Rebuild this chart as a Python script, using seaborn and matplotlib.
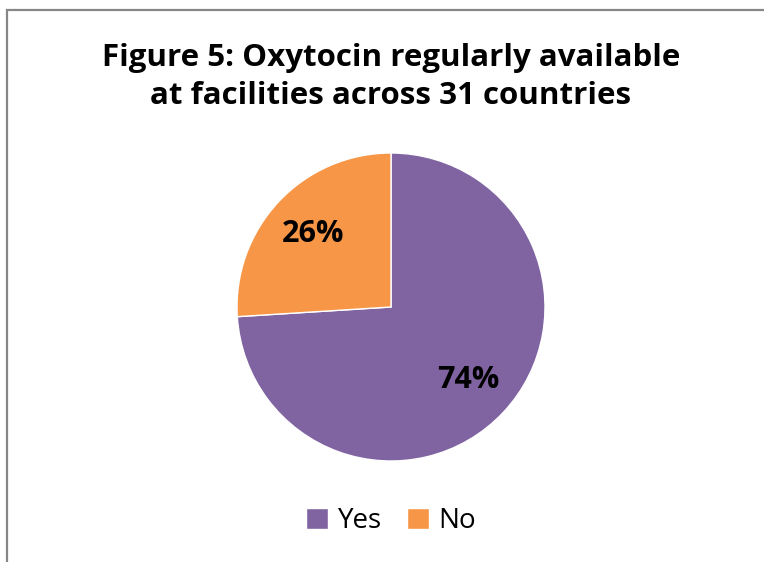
import matplotlib
matplotlib.use("Agg")
import matplotlib.pyplot as plt
import seaborn as sns
from matplotlib.patches import Rectangle

# Datos del gráfico
categorias = ["Yes", "No"]
porcentajes = [74, 26]
colores = ["#8064A2", "#F79646"]
titulo = "Figure 5: Oxytocin regularly available\nat facilities across 31 countries"

sns.set_theme(style="white")
plt.rcParams["font.family"] = ["Open Sans", "DejaVu Sans"]
plt.rcParams["text.color"] = "black"

W, H = 764, 562
fig = plt.figure(figsize=(W / 100, H / 100), dpi=100)

# Borde gris del área del gráfico
fig.add_artist(Rectangle((6.5 / W, -0.1), 1.2, 1.1 - 9.5 / H, transform=fig.transFigure,
                         fill=False, edgecolor="#878787", linewidth=1.6))

# Ejes para la torta: centro (391, 307), radio 154 px
cx, cy, r = 391, 307, 154
ax = fig.add_axes([(cx - r) / W, (H - cy - r) / H, 2 * r / W, 2 * r / H])
wedges, textos, autotextos = ax.pie(
    porcentajes, colors=colores, startangle=90, counterclock=False,
    autopct="%d%%", pctdistance=0.69, radius=1,
    textprops=dict(fontsize=22, fontweight="bold", color="black"),
)
ax.set_xlim(-1, 1)
ax.set_ylim(-1, 1)
ax.axis("off")

fig.text(cx / W, 1 - 77 / H, titulo, ha="center", va="center", fontsize=22.5,
         fontweight="bold", linespacing=1.38, color="black")

leg = fig.legend(wedges, categorias, loc="center", bbox_to_anchor=(cx / W, 1 - 521 / H),
                 ncol=2, frameon=False, fontsize=20, handlelength=0.8, handleheight=0.8,
                 handletextpad=0.35, columnspacing=0.9)
for t in leg.get_texts():
    t.set_color("black")

fig.savefig("out.png", dpi=100)
plt.close(fig)
